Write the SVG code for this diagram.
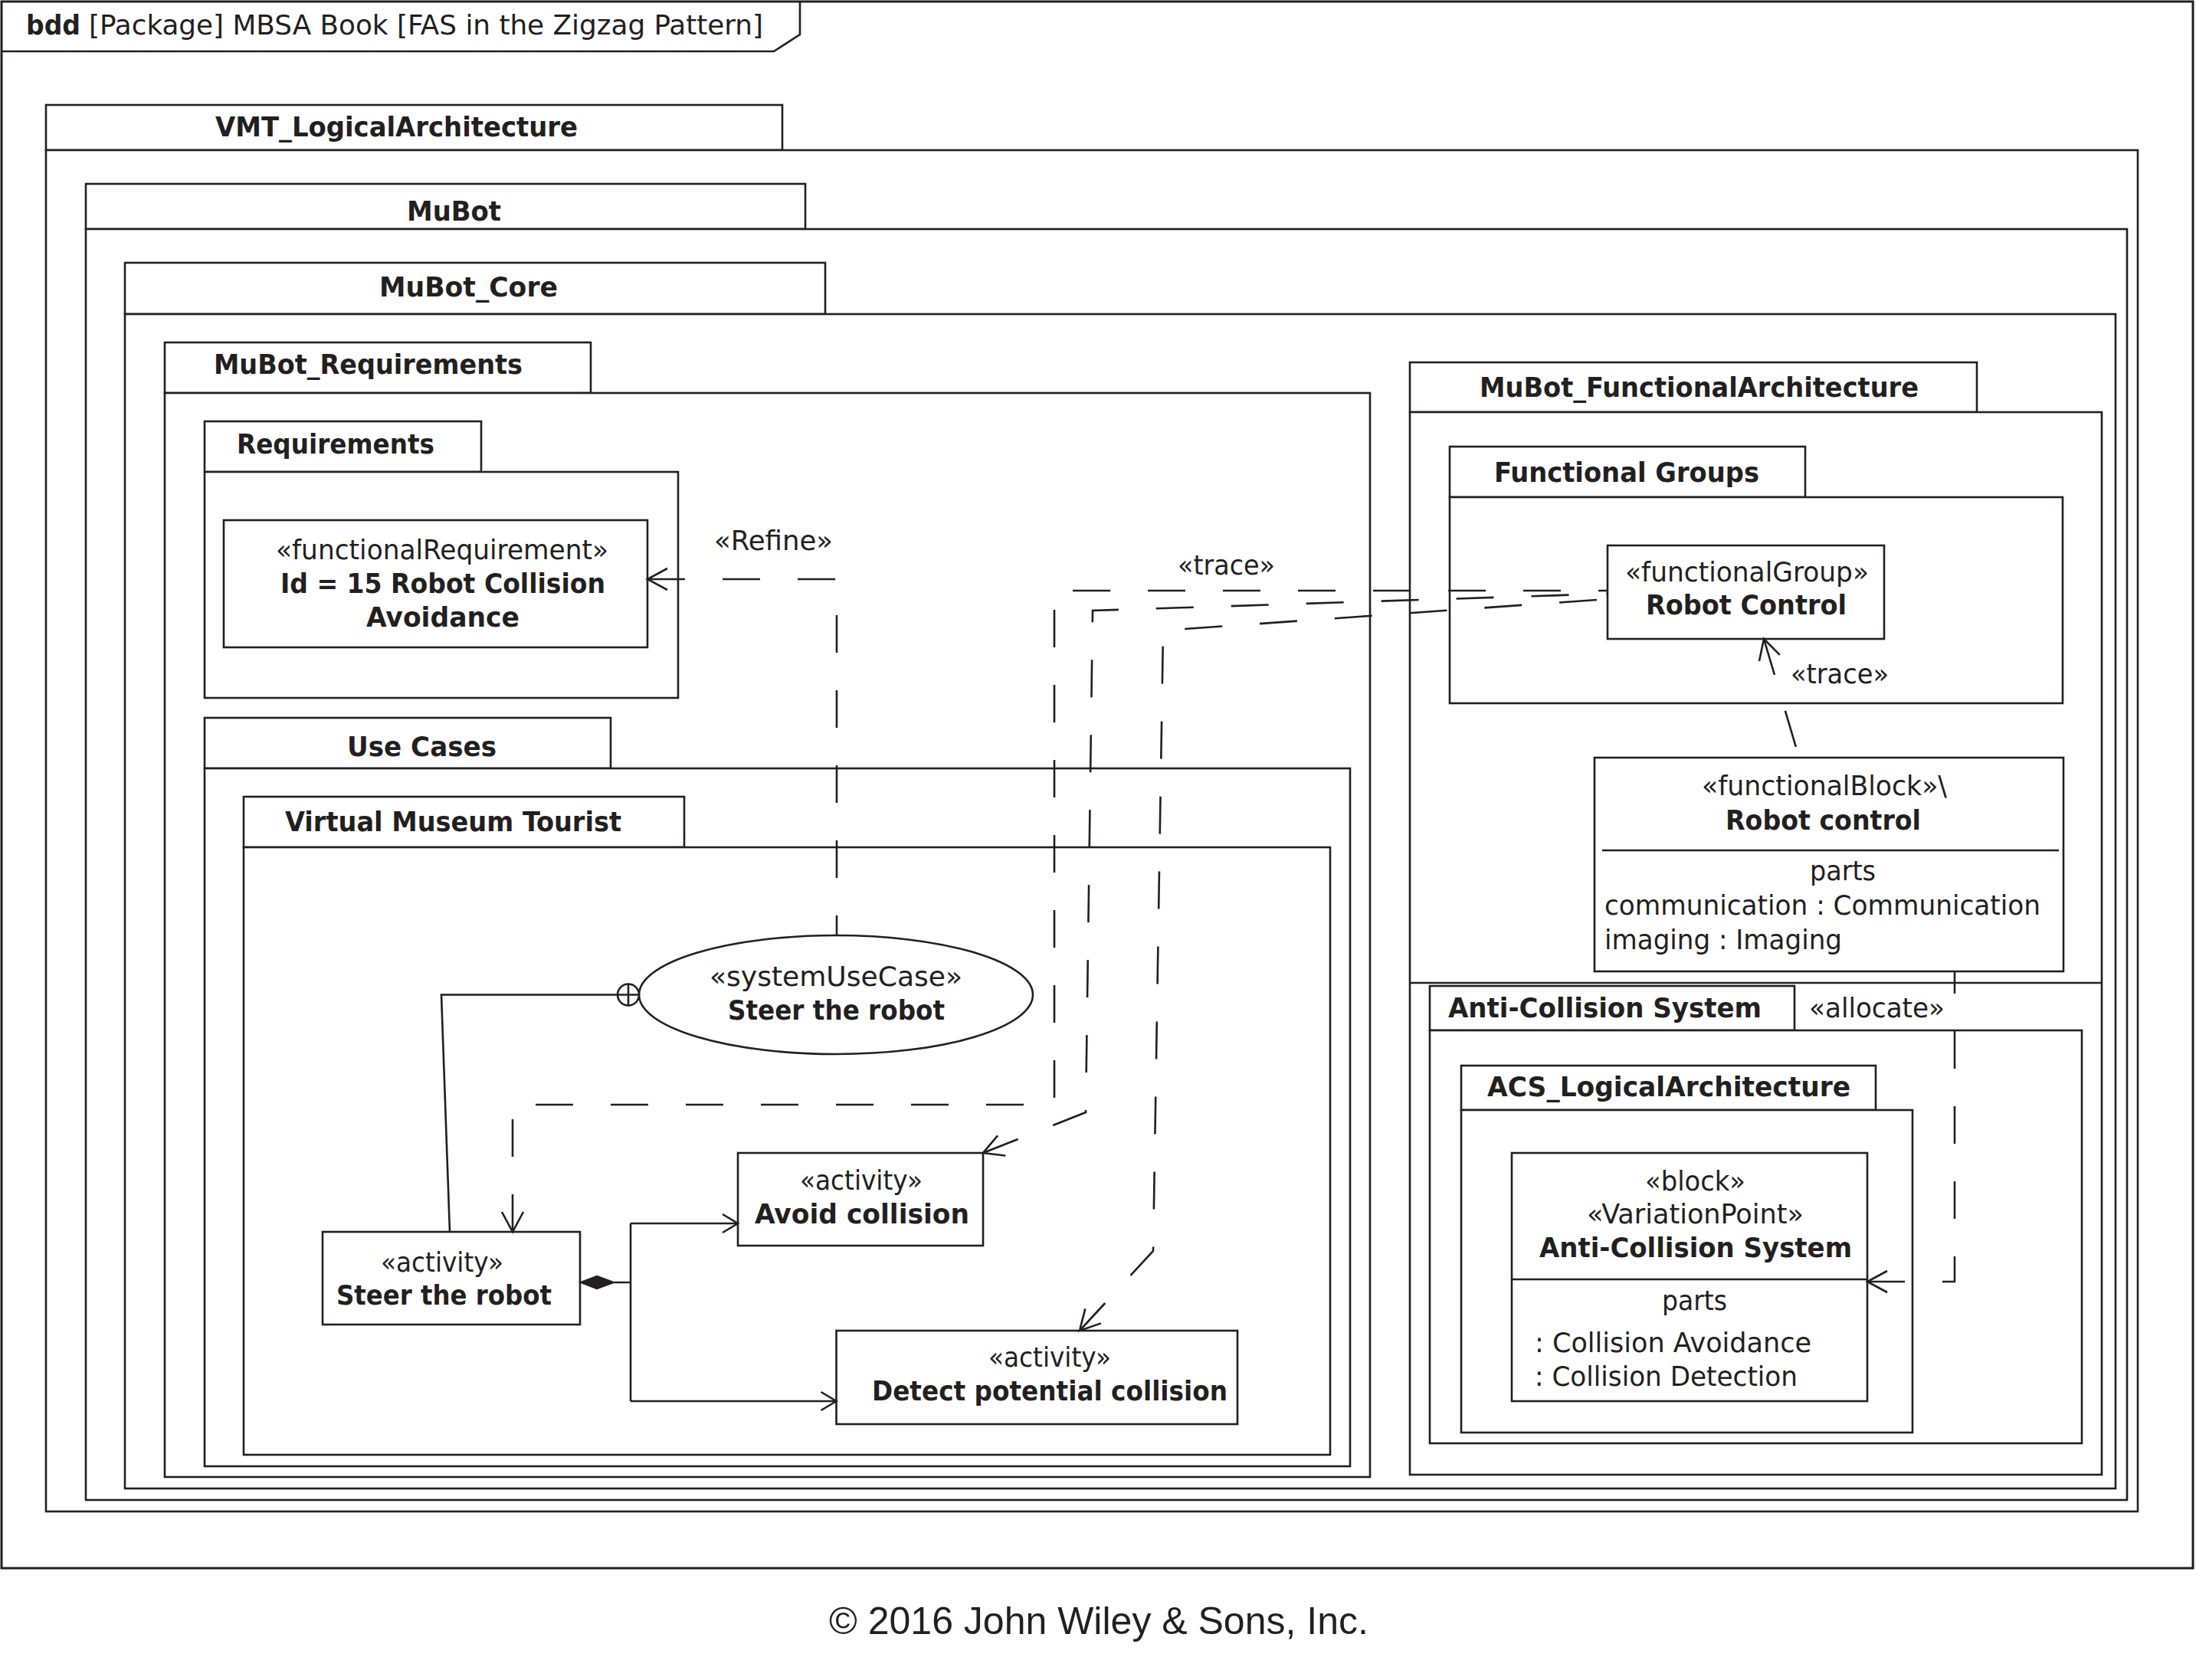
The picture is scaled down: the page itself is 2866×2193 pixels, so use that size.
<svg xmlns="http://www.w3.org/2000/svg" width="2866" height="2193" viewBox="0 0 2866 2193">
<style>
.ln{fill:none;stroke:#231f20;stroke-width:2.6}
.bx{fill:#fff;stroke:#231f20;stroke-width:2.6}
.dash{fill:none;stroke:#231f20;stroke-width:2.6;stroke-dasharray:49 49}
.t{font-family:"DejaVu Sans Condensed","DejaVu Sans",sans-serif;font-stretch:condensed;font-size:36px;fill:#231f20}
.b{font-weight:bold}
.ttl{font-size:35px}
.cp{font-family:"Liberation Sans",Arial,sans-serif;font-size:50px;fill:#231f20}
.ah{fill:none;stroke:#231f20;stroke-width:2.6;stroke-dasharray:none}
</style>
<defs>
<marker id="open" markerUnits="userSpaceOnUse" viewBox="-30 -16 32 32" markerWidth="32" markerHeight="32" refX="0" refY="0" orient="auto-start-reverse" overflow="visible">
<path class="ah" d="M -26 -14 L 0 0 L -26 14"/>
</marker>
<marker id="openS" markerUnits="userSpaceOnUse" viewBox="-30 -16 32 32" markerWidth="32" markerHeight="32" refX="0" refY="0" orient="auto-start-reverse" overflow="visible">
<path class="ah" d="M -20 -12 L 0 0 L -20 12"/>
</marker>
</defs>
<rect width="2866" height="2193" fill="#fff"/>

<g id="frame">
<rect class="ln" x="2" y="2" width="2860" height="2045" style="stroke-width:3"/>
<path class="ln" d="M 2 67 H 1010 L 1044 45 V 2"/>
<text class="t b ttl" x="34" y="45" textLength="71" lengthAdjust="spacingAndGlyphs">bdd</text>
<text class="t ttl" x="116" y="45" textLength="880" lengthAdjust="spacingAndGlyphs">[Package] MBSA Book [FAS in the Zigzag Pattern]</text>
</g>

<g id="pkg-VMT_LogicalArchitecture">
<rect class="bx" x="60" y="137" width="961" height="59"/>
<rect class="bx" x="60" y="196" width="2730" height="1777"/>
<text class="t b" x="281" y="178" textLength="473" lengthAdjust="spacingAndGlyphs">VMT_LogicalArchitecture</text>
</g>

<g id="pkg-MuBot">
<rect class="bx" x="112" y="240" width="939" height="59"/>
<rect class="bx" x="112" y="299" width="2664" height="1659"/>
<text class="t b" x="531" y="288" textLength="123" lengthAdjust="spacingAndGlyphs">MuBot</text>
</g>

<g id="pkg-MuBot_Core">
<rect class="bx" x="163" y="343" width="914" height="67"/>
<rect class="bx" x="163" y="410" width="2598" height="1533"/>
<text class="t b" x="495" y="387" textLength="233" lengthAdjust="spacingAndGlyphs">MuBot_Core</text>
</g>

<g id="pkg-MuBot_Requirements">
<rect class="bx" x="215" y="447" width="556" height="66"/>
<rect class="bx" x="215" y="513" width="1573" height="1415"/>
<text class="t b" x="279" y="488" textLength="403" lengthAdjust="spacingAndGlyphs">MuBot_Requirements</text>
</g>

<g id="pkg-Requirements">
<rect class="bx" x="267" y="550" width="361" height="66"/>
<rect class="bx" x="267" y="616" width="618" height="295"/>
<text class="t b" x="309" y="592" textLength="258" lengthAdjust="spacingAndGlyphs">Requirements</text>
</g>

<g id="pkg-UseCases">
<rect class="bx" x="267" y="937" width="530" height="66"/>
<rect class="bx" x="267" y="1003" width="1495" height="911"/>
<text class="t b" x="453" y="987" textLength="195" lengthAdjust="spacingAndGlyphs">Use Cases</text>
</g>

<g id="pkg-VirtualMuseumTourist">
<rect class="bx" x="318" y="1040" width="575" height="66"/>
<rect class="bx" x="318" y="1106" width="1418" height="793"/>
<text class="t b" x="372" y="1085" textLength="439" lengthAdjust="spacingAndGlyphs">Virtual Museum Tourist</text>
</g>

<g id="pkg-MuBot_FunctionalArchitecture">
<rect class="bx" x="1840" y="473" width="740" height="65"/>
<rect class="bx" x="1840" y="538" width="903" height="1387"/>
<line class="ln" x1="1840" y1="1283" x2="2743" y2="1283"/>
<text class="t b" x="1931" y="518" textLength="573" lengthAdjust="spacingAndGlyphs">MuBot_FunctionalArchitecture</text>
</g>

<g id="pkg-FunctionalGroups">
<rect class="bx" x="1892" y="583" width="464" height="66"/>
<rect class="bx" x="1892" y="649" width="800" height="269"/>
<text class="t b" x="1950" y="629" textLength="346" lengthAdjust="spacingAndGlyphs">Functional Groups</text>
</g>

<g id="pkg-AntiCollisionSystem">
<rect class="bx" x="1866" y="1287" width="476" height="58"/>
<rect class="bx" x="1866" y="1345" width="851" height="539"/>
<text class="t b" x="1890" y="1328" textLength="409" lengthAdjust="spacingAndGlyphs">Anti-Collision System</text>
</g>

<g id="pkg-ACS_LogicalArchitecture">
<rect class="bx" x="1907" y="1391" width="541" height="58"/>
<rect class="bx" x="1907" y="1449" width="589" height="421"/>
<text class="t b" x="1941" y="1431" textLength="474" lengthAdjust="spacingAndGlyphs">ACS_LogicalArchitecture</text>
</g>

<g id="node-req15">
<rect class="bx" x="292" y="679" width="553" height="166"/>
<text class="t" x="360" y="730" textLength="434" lengthAdjust="spacingAndGlyphs">«functionalRequirement»</text>
<text class="t b" x="366" y="774" textLength="424" lengthAdjust="spacingAndGlyphs">Id = 15 Robot Collision</text>
<text class="t b" x="478" y="818" textLength="200" lengthAdjust="spacingAndGlyphs">Avoidance</text>
</g>

<g id="node-usecase">
<ellipse class="bx" cx="1091" cy="1298.5" rx="257" ry="77.5"/>
<text class="t" x="926" y="1287" textLength="330" lengthAdjust="spacingAndGlyphs">«systemUseCase»</text>
<text class="t b" x="950" y="1331" textLength="283" lengthAdjust="spacingAndGlyphs">Steer the robot</text>
</g>

<g id="node-steer">
<rect class="bx" x="421" y="1608" width="336" height="121"/>
<text class="t" x="497" y="1660" textLength="160" lengthAdjust="spacingAndGlyphs">«activity»</text>
<text class="t b" x="439" y="1703" textLength="281" lengthAdjust="spacingAndGlyphs">Steer the robot</text>
</g>

<g id="node-avoid">
<rect class="bx" x="963" y="1505" width="320" height="121"/>
<text class="t" x="1044" y="1553" textLength="160" lengthAdjust="spacingAndGlyphs">«activity»</text>
<text class="t b" x="985" y="1597" textLength="280" lengthAdjust="spacingAndGlyphs">Avoid collision</text>
</g>

<g id="node-detect">
<rect class="bx" x="1091.5" y="1737" width="523.5" height="122"/>
<text class="t" x="1290" y="1784" textLength="160" lengthAdjust="spacingAndGlyphs">«activity»</text>
<text class="t b" x="1138" y="1828" textLength="464" lengthAdjust="spacingAndGlyphs">Detect potential collision</text>
</g>

<g id="node-robotControlGroup">
<rect class="bx" x="2098" y="712" width="361" height="122"/>
<text class="t" x="2121" y="759" textLength="318" lengthAdjust="spacingAndGlyphs">«functionalGroup»</text>
<text class="t b" x="2148" y="802" textLength="262" lengthAdjust="spacingAndGlyphs">Robot Control</text>
</g>

<g id="node-robotControlBlock">
<rect class="bx" x="2081" y="989" width="612" height="279"/>
<line class="ln" x1="2091" y1="1110" x2="2687" y2="1110"/>
<text class="t" x="2221" y="1038" textLength="320" lengthAdjust="spacingAndGlyphs">«functionalBlock»\</text>
<text class="t b" x="2252" y="1083" textLength="255" lengthAdjust="spacingAndGlyphs">Robot control</text>
<text class="t" x="2362" y="1149" textLength="86" lengthAdjust="spacingAndGlyphs">parts</text>
<text class="t" x="2094" y="1194" textLength="569" lengthAdjust="spacingAndGlyphs">communication : Communication</text>
<text class="t" x="2094" y="1239" textLength="310" lengthAdjust="spacingAndGlyphs">imaging : Imaging</text>
</g>

<g id="node-acsBlock">
<rect class="bx" x="1973" y="1505" width="464" height="324"/>
<line class="ln" x1="1973" y1="1670" x2="2437" y2="1670"/>
<text class="t" x="2147" y="1554" textLength="131" lengthAdjust="spacingAndGlyphs">«block»</text>
<text class="t" x="2071" y="1597" textLength="283" lengthAdjust="spacingAndGlyphs">«VariationPoint»</text>
<text class="t b" x="2009" y="1641" textLength="408" lengthAdjust="spacingAndGlyphs">Anti-Collision System</text>
<text class="t" x="2169" y="1710" textLength="85" lengthAdjust="spacingAndGlyphs">parts</text>
<text class="t" x="2003" y="1765" textLength="361" lengthAdjust="spacingAndGlyphs">: Collision Avoidance</text>
<text class="t" x="2003" y="1809" textLength="343" lengthAdjust="spacingAndGlyphs">: Collision Detection</text>
</g>

<g id="connectors">
<path class="dash" d="M 845 756 H 1092 V 1221" marker-start="url(#open)"/>
<text class="t" x="932" y="718" textLength="155" lengthAdjust="spacingAndGlyphs">«Refine»</text>
<path class="dash" d="M 669 1608 V 1442 H 1376 V 771 H 2098" marker-start="url(#open)"/>
<path class="dash" d="M 1283 1505 L 1417 1452 L 1426 797 L 2098 775" marker-start="url(#open)"/>
<path class="dash" d="M 1409 1737 L 1505 1633 L 1518 823 L 2098 782" marker-start="url(#open)"/>
<text class="t" x="1537" y="750" textLength="127" lengthAdjust="spacingAndGlyphs">«trace»</text>
<path class="dash" d="M 2302 834 L 2348 989" marker-start="url(#open)"/>
<text class="t" x="2337" y="892" textLength="128" lengthAdjust="spacingAndGlyphs">«trace»</text>
<path class="dash" d="M 2437 1673 H 2551 V 1268" marker-start="url(#open)"/>
<text class="t" x="2361" y="1328" textLength="177" lengthAdjust="spacingAndGlyphs">«allocate»</text>
<path class="ln" d="M 587 1608 L 576 1298.5 H 806"/>
<circle class="bx" cx="820" cy="1298.5" r="14"/>
<path class="ln" d="M 806 1298.5 H 834 M 820 1284.5 V 1312.5"/>
<polygon points="757,1674 779,1665.5 802,1674 779,1682.5" fill="#231f20" stroke="#231f20" stroke-width="1.5"/>
<path class="ln" d="M 802 1674 H 823 M 823 1597 V 1829"/>
<path class="ln" d="M 963 1597 H 823" marker-start="url(#openS)"/>
<path class="ln" d="M 1091.5 1829 H 823" marker-start="url(#openS)"/>
</g>

<text class="cp" x="1082" y="2133">© 2016 John Wiley &amp; Sons, Inc.</text>
</svg>
